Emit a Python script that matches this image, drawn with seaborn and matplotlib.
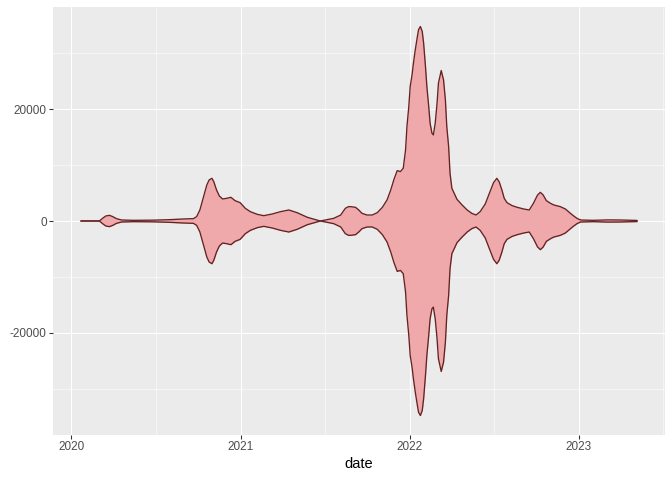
import pandas as pd
import numpy as np
import matplotlib
matplotlib.use("Agg")
import matplotlib.pyplot as plt
import matplotlib.dates as mdates
import seaborn as sns

# half-width of the stream (it is drawn symmetric around 0)
dates = [
    "2020-01-22", "2020-03-02", "2020-03-09", "2020-03-16", "2020-03-24", "2020-03-31",
    "2020-04-08", "2020-04-19", "2020-05-14", "2020-06-26", "2020-08-01", "2020-08-30",
    "2020-09-21", "2020-09-28", "2020-10-05", "2020-10-12", "2020-10-20", "2020-10-25",
    "2020-10-31", "2020-11-04", "2020-11-10", "2020-11-16", "2020-11-23", "2020-12-02",
    "2020-12-11", "2020-12-20", "2020-12-31", "2021-01-11", "2021-01-22", "2021-02-06",
    "2021-02-20", "2021-03-10", "2021-03-28", "2021-04-15", "2021-05-03", "2021-05-25",
    "2021-06-22", "2021-07-21", "2021-08-05", "2021-08-15", "2021-08-22", "2021-08-26",
    "2021-09-06", "2021-09-13", "2021-09-20", "2021-10-01", "2021-10-12", "2021-10-23",
    "2021-11-03", "2021-11-13", "2021-11-21", "2021-11-28", "2021-12-05", "2021-12-12",
    "2021-12-18", "2021-12-23", "2021-12-26", "2021-12-30", "2022-01-02", "2022-01-06",
    "2022-01-09", "2022-01-13", "2022-01-17", "2022-01-20", "2022-01-24", "2022-01-28",
    "2022-01-31", "2022-02-04", "2022-02-07", "2022-02-11", "2022-02-14", "2022-02-18",
    "2022-02-21", "2022-02-25", "2022-03-01", "2022-03-04", "2022-03-10", "2022-03-15",
    "2022-03-19", "2022-03-22", "2022-03-26", "2022-03-29", "2022-04-02", "2022-04-07",
    "2022-04-13", "2022-04-24", "2022-05-05", "2022-05-15", "2022-05-24", "2022-06-02",
    "2022-06-13", "2022-06-24", "2022-07-01", "2022-07-08", "2022-07-13", "2022-07-19",
    "2022-07-24", "2022-07-30", "2022-08-10", "2022-08-21", "2022-09-04", "2022-09-16",
    "2022-09-25", "2022-10-04", "2022-10-10", "2022-10-16", "2022-10-23", "2022-11-01",
    "2022-11-08", "2022-11-22", "2022-12-03", "2022-12-14", "2022-12-21", "2022-12-28",
    "2023-01-05", "2023-02-01", "2023-03-05", "2023-04-01", "2023-05-07",
]
half_width = [
    0, 0, 480, 900, 1010, 780,
    420, 180, 120, 150, 240, 360,
    420, 780, 1970, 4060, 6450, 7340,
    7640, 7040, 5550, 4480, 3940, 4060,
    4240, 3640, 3280, 2270, 1670, 1190,
    955, 1250, 1670, 1970, 1490, 660,
    0, 480, 1070, 2270, 2570, 2570,
    2450, 1970, 1370, 1070, 1070, 1490,
    2450, 3760, 5550, 7460, 9010, 8840,
    9430, 12720, 16900, 20480, 24060, 26150,
    28240, 30630, 32720, 34210, 34800, 33910,
    31820, 27640, 24060, 20480, 17490, 15700,
    15400, 17490, 21070, 24660, 26920, 25250,
    21670, 16900, 13310, 8540, 5850, 4960,
    3880, 2870, 1970, 1370, 1070, 1670,
    3040, 5400, 6870, 7640, 7040, 5550,
    4060, 3280, 2750, 2450, 2150, 1970,
    3160, 4660, 5130, 4660, 3640, 3160,
    2870, 2570, 2150, 1370, 900, 480,
    180, 120, 200, 180, 100,
]

df = pd.DataFrame({"date": pd.to_datetime(dates), "upper": half_width})
df["lower"] = -df["upper"]

sns.set_theme(style="darkgrid", rc={
    "axes.facecolor": "#EBEBEB",
    "grid.color": "white",
    "axes.unicode_minus": False,
})
plt.rcParams["font.family"] = ["Liberation Sans", "DejaVu Sans"]

fig = plt.figure(figsize=(7, 5), dpi=96)
ax = fig.add_axes([53 / 672, 1 - 435 / 480, (665 - 53) / 672, (435 - 7) / 480])

ax.fill_between(df["date"], df["lower"], df["upper"], color="#EFA9AA", linewidth=0, zorder=2)
sns.lineplot(data=df, x="date", y="upper", color="#652222", linewidth=1.0, ax=ax, zorder=3)
sns.lineplot(data=df, x="date", y="lower", color="#652222", linewidth=1.0, ax=ax, zorder=3)

# ggplot-like expansion of 5% on each side
x0, x1 = mdates.date2num(df["date"].min()), mdates.date2num(df["date"].max())
pad = 0.05 * (x1 - x0)
ax.set_xlim(x0 - pad, x1 + pad)
ymax = max(half_width) * 1.1
ax.set_ylim(-ymax, ymax)

ax.set_yticks([-20000, 0, 20000])
ax.set_yticks([-30000, -10000, 10000, 30000], minor=True)
ax.set_yticklabels(["-20000", "0", "20000"])
years = pd.to_datetime(["2020-01-01", "2021-01-01", "2022-01-01", "2023-01-01"])
mids = pd.to_datetime(["2020-07-02", "2021-07-02", "2022-07-02", "2023-07-02"])
ax.set_xticks(mdates.date2num(years))
ax.set_xticks(mdates.date2num(mids), minor=True)
ax.set_xticklabels(["2020", "2021", "2022", "2023"])

ax.grid(True, which="major", color="white", linewidth=0.8)
ax.grid(True, which="minor", color="white", linewidth=0.4)
ax.tick_params(which="major", length=2.75, width=0.8, color="#333333",
               labelsize=8.8, labelcolor="#4D4D4D", pad=2, bottom=True, left=True)
ax.tick_params(which="minor", length=0)
for s in ax.spines.values():
    s.set_visible(False)

ax.set_xlabel("date", fontsize=11, color="black", labelpad=3)
ax.set_ylabel("")

fig.savefig("out.png", dpi=96)
